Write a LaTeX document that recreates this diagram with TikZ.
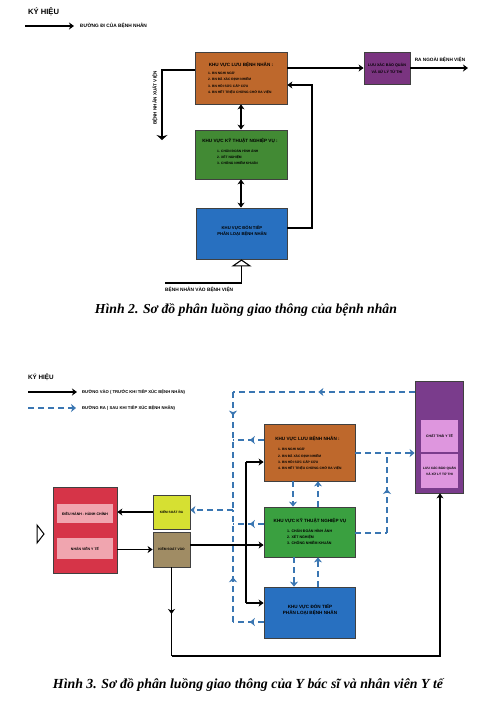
\documentclass[tikz,border=0pt]{standalone}
\usepackage{fontspec}
\setmainfont{Liberation Sans}
\newfontfamily\capfont{Liberation Serif}
\usetikzlibrary{arrows.meta,decorations.markings}
\definecolor{cOr}{RGB}{190,104,44}
\definecolor{cGrA}{RGB}{66,138,52}
\definecolor{cGrB}{RGB}{58,160,64}
\definecolor{cBl}{RGB}{40,112,192}
\definecolor{cPuA}{RGB}{122,52,128}
\definecolor{cPuB}{RGB}{122,60,140}
\definecolor{cPk}{RGB}{222,150,222}
\definecolor{cRd}{RGB}{214,52,72}
\definecolor{cPkR}{RGB}{240,165,175}
\definecolor{cYe}{RGB}{214,224,50}
\definecolor{cTn}{RGB}{160,140,100}
\definecolor{dblue}{RGB}{58,118,178}
\newcommand\fs[1]{\fontsize{#1pt}{#1pt}\selectfont\bfseries}
\newcommand\fsl[2]{\fontsize{#1pt}{#2pt}\selectfont\bfseries}
\begin{document}
\begin{tikzpicture}[x=1pt,y=-1pt,
  zone/.style={draw=black!75,line width=0.8pt,inner sep=0pt},
  sub/.style={inner sep=0pt,align=center},
  txt/.style={inner sep=0pt},
  arr/.style={line width=1.1pt,-{Stealth[length=5pt,width=7pt,inset=1.5pt]}},
  arrW/.style={line width=1.1pt,-{Stealth[length=5pt,width=11pt,inset=1.5pt]}},
  dbl/.style={line width=1.1pt,{Stealth[length=5pt,width=7pt,inset=1.5pt]}-{Stealth[length=5pt,width=7pt,inset=1.5pt]}},
  dsh/.style={draw=dblue,line width=1.3pt,dash pattern=on 6pt off 4pt},
  dend/.style={-{Stealth[length=5pt,width=8pt,inset=1.5pt]}},
  mk/.style={postaction={decorate},decoration={markings,mark=at position #1 with {\pgfsetdash{}{0pt}\arrow[dblue]{Stealth[length=5pt,width=8pt,inset=1.5pt]}}}}]
\useasboundingbox (0,0) rectangle (492,705);
\fill[white] (0,0) rectangle (492,705);

% ================= Figure 2 =================
\node[txt,font=\fs{7.6},anchor=base west] (k1) at (28,14) {KÝ HIỆU};
\coordinate (lg1a) at (25,26); \coordinate (lg1b) at (74,26);
\draw[arr] (lg1a) -- (lg1b);
\node[txt,font=\fs{4.8},anchor=west] (lg1t) at (80,26) {ĐƯỜNG ĐI CỦA BỆNH NHÂN};

\node[zone,fill=cOr,minimum width=92pt,minimum height=52pt] (or1) at (241,78) {};
\node[txt,font=\fs{4.6},anchor=base] (or1t) at (241,66) {KHU VỰC LƯU BỆNH NHÂN :};
\node[txt,font=\fsl{3.3}{6.3},anchor=north west,align=left] (or1l) at (208,71.5)
  {1. BN NGHI NGỜ\\2. BN ĐÃ XÁC ĐỊNH NHIỄM\\3. BN HỒI SỨC CẤP CỨU\\4. BN HẾT TRIỆU CHỨNG CHỜ RA VIỆN};

\node[zone,fill=cGrA,minimum width=92pt,minimum height=49pt] (gr1) at (241,154.5) {};
\node[txt,font=\fs{4.6},anchor=base] (gr1t) at (240,142) {KHU VỰC KỸ THUẬT NGHIỆP VỤ :};
\node[txt,font=\fsl{3.3}{6}, anchor=north west,align=left] (gr1l) at (217,149.6)
  {1. CHẨN ĐOÁN HÌNH ẢNH\\2. XÉT NGHIỆM\\3. CHỐNG NHIỄM KHUẨN};

\node[zone,fill=cBl,minimum width=91pt,minimum height=51pt] (bl1) at (241.5,233.5) {};
\node[txt,font=\fsl{4.2}{5.6},align=center] (bl1t) at (242,231) {KHU VỰC ĐÓN TIẾP\\PHÂN LOẠI BỆNH NHÂN};

\node[zone,fill=cPuA,minimum width=46pt,minimum height=32pt] (pu1) at (387,68) {};
\node[txt,font=\fsl{3.7}{6.5},align=center] (pu1t) at (387,68.5) {LƯU XÁC BẢO QUẢN\\VÀ XỬ LÝ TỬ THI};

\node[txt,font=\fs{4.7}] (outt) at (440,60) {RA NGOÀI BỆNH VIỆN};
\coordinate (out1) at (468,68);
\draw[arr] (or1.east |- 0,68) -- (pu1.west);
\draw[arr] (pu1.east) -- (out1);

\coordinate (dis1) at (162,140);
\draw[arrW] (or1.west |- 0,70) -| (dis1);
\node[txt,font=\fs{4.6},rotate=90] (dis1t) at (155,98) {BỆNH NHÂN XUẤT VIỆN};

\draw[dbl] (or1.south) -- (gr1.north);
\draw[dbl] (gr1.south) -- (gr1.south |- bl1.north);

\coordinate (rc) at (312,228);
\draw[arr] (bl1.east |- rc) -- (rc) |- (or1.east |- 0,85);

\coordinate (in1) at (165,283);
\draw[line width=1.1pt,-{Triangle[open,length=7pt,width=20pt,line width=1.1pt]}] (in1) -| (bl1.south);
\node[txt,font=\fs{4.8},anchor=north west] (in1t) at (165,287) {BỆNH NHÂN VÀO BỆNH VIỆN};

\node[txt] (cap2) at (246,310) {\resizebox{302pt}{!}{\capfont\bfseries\itshape Hình 2. Sơ đồ phân luồng giao thông của bệnh nhân}};

% ================= Figure 3 =================
\node[txt,font=\fs{6.3},anchor=base west] (k2) at (28,379) {KÝ HIỆU};
\coordinate (lg2a) at (28,392); \coordinate (lg2b) at (77,392);
\draw[arr] (lg2a) -- (lg2b);
\node[txt,font=\fs{4.2},anchor=west] (lg2t) at (82,392) {ĐƯỜNG VÀO ( TRƯỚC KHI TIẾP XÚC BỆNH NHÂN)};
\coordinate (lg3a) at (28,408); \coordinate (lg3b) at (76,408);
\draw[dsh,dend] (lg3a) -- (lg3b);
\node[txt,font=\fs{4.2},anchor=west] (lg3t) at (82,408) {ĐƯỜNG RA ( SAU KHI TIẾP XÚC BỆNH NHÂN)};

% left block
\node[zone,fill=cRd,minimum width=64pt,minimum height=86pt] (rd2) at (85,530) {};
\node[sub,fill=cPkR,minimum width=56pt,minimum height=19pt,font=\fs{3.6}] (pka) at (85,513.5) {ĐIỀU HÀNH - HÀNH CHÍNH};
\node[sub,fill=cPkR,minimum width=56pt,minimum height=21pt,font=\fs{3.5}] (pkb) at (85,548.5) {NHÂN VIÊN Y TẾ};
\draw[line width=1pt] (37,525) -- (44,534) -- (37,543) -- cycle;

\node[zone,fill=cYe,minimum width=37pt,minimum height=34pt,font=\fs{3.2}] (ye2) at (171.5,512) {KIỂM SOÁT RA};
\node[zone,fill=cTn,minimum width=37pt,minimum height=35pt,font=\fs{3.3}] (tn2) at (171.5,549.5) {KIỂM SOÁT VÀO};

% zones
\node[zone,fill=cOr,minimum width=91pt,minimum height=57pt] (or2) at (309.5,452.5) {};
\node[txt,font=\fs{4.6},anchor=base] (or2t) at (307.5,440.7) {KHU VỰC LƯU BỆNH NHÂN :};
\node[txt,font=\fsl{3.3}{6.3},anchor=north west,align=left] (or2l) at (278,447.6)
  {1. BN NGHI NGỜ\\2. BN ĐÃ XÁC ĐỊNH NHIỄM\\3. BN HỒI SỨC CẤP CỨU\\4. BN HẾT TRIỆU CHỨNG CHỜ RA VIỆN};

\node[zone,fill=cGrB,minimum width=91pt,minimum height=50pt] (gr2) at (309.5,532) {};
\node[txt,font=\fs{4.6},anchor=base] (gr2t) at (310,522.7) {KHU VỰC KỸ THUẬT NGHIỆP VỤ};
\node[txt,font=\fsl{3.6}{6},anchor=north west,align=left] (gr2l) at (287,529.3)
  {1. CHẨN ĐOÁN HÌNH ẢNH\\2. XÉT NGHIỆM\\3. CHỐNG NHIỄM KHUẨN};

\node[zone,fill=cBl,minimum width=91pt,minimum height=51pt] (bl2) at (309.5,612.5) {};
\node[txt,font=\fsl{4.6}{6},align=center] (bl2t) at (310,610) {KHU VỰC ĐÓN TIẾP\\PHÂN LOẠI BỆNH NHÂN};

\node[zone,fill=cPuB,minimum width=48pt,minimum height=112pt] (pu2) at (439,437) {};
\node[sub,fill=cPk,minimum width=37pt,minimum height=32pt,font=\fs{3.4}] (pkc) at (439.5,436) {CHẤT THẢI Y TẾ};
\node[sub,fill=cPk,minimum width=37pt,minimum height=34pt,font=\fsl{3.2}{6.5}] (pkd) at (439.5,471) {LƯU XÁC BẢO QUẢN\\VÀ XỬ LÝ TỬ THI};

% solid connectors
\draw[arr] (ye2.west) -- (ye2.west -| rd2.east);
\draw[arr] (rd2.east |- tn2.west) -- (tn2.west);
\coordinate (jt) at (246,462); \coordinate (jb) at (246,603);
\draw[line width=1.1pt] (jt) -- (jb);
\draw[arr] (jt) -- (jt -| or2.west);
\draw[arr] (tn2.east |- 0,545) -- (gr2.west |- 0,545);
\draw[arr] (jb) -- (jb -| bl2.west);
\coordinate (lp1) at (171.5,656); \coordinate (lp2) at (440,656);
\draw[arr] (tn2.south) -- (tn2.south |- 0,614);
\draw[line width=1.1pt] (tn2.south |- 0,610) -- (lp1);
\draw[arr] (lp1) -- (lp2) -- (lp2 |- pu2.south);

% dashed connectors
\coordinate (lt) at (233,392); \coordinate (lm) at (233,510); \coordinate (lb) at (233,622);
\coordinate (rt) at (387,453); \coordinate (rb) at (387,533);
\draw[dsh,mk=0.45] (or2.west |- 0,440) -- (lt |- 0,440);
\draw[dsh,mk=0.45] (gr2.west |- 0,524) -- (lt |- 0,524);
\draw[dsh,mk=0.45] (bl2.west |- lb) -- (lb);
\draw[dsh,mk=0.4] (lb) -- (lm);
\draw[dsh,mk=0.53] (pu2.west |- lt) -- (lt);
\draw[dsh,mk=0.2] (lt) -- (lm);
\draw[dsh,dend] (lm) -- (ye2.east |- lm);
\draw[dsh,dend] (or2.east |- rt) -- (pu2.west |- rt);
\draw[dsh] (gr2.east |- rb) -- (rb);
\draw[dsh,mk=0.55] (rb) -- (rt);
\draw[dsh,dend] (or2.south -| 293,0) -- (gr2.north -| 293,0);
\draw[dsh,dend] (gr2.north -| 318,0) -- (or2.south -| 318,0);
\draw[dsh,dend] (gr2.south -| 294,0) -- (bl2.north -| 294,0);
\draw[dsh,dend] (bl2.north -| 318,0) -- (gr2.south -| 318,0);

\node[txt] (cap3) at (248,685) {\resizebox{390pt}{!}{\capfont\bfseries\itshape Hình 3. Sơ đồ phân luồng giao thông của Y bác sĩ và nhân viên Y tế}};
\end{tikzpicture}
\end{document}
